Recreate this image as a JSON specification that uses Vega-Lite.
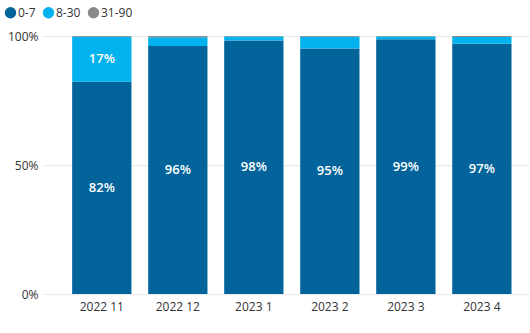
{
  "$schema": "https://vega.github.io/schema/vega-lite/v6.json",
  "autosize": {"type": "none"},
  "padding": {"left": 42, "top": 36, "right": 0, "bottom": 39},
  "width": 488,
  "height": 258,
  "background": "white",
  "config": {"view": {"stroke": null}, "font": "Segoe UI, Open Sans, sans-serif"},
  "data": {
    "values": [
      {"month": "2022 11", "bucket": "0-7", "value": 82.3},
      {"month": "2022 11", "bucket": "8-30", "value": 17.4},
      {"month": "2022 11", "bucket": "31-90", "value": 0.3},
      {"month": "2022 12", "bucket": "0-7", "value": 96.1},
      {"month": "2022 12", "bucket": "8-30", "value": 3.4},
      {"month": "2022 12", "bucket": "31-90", "value": 0.5},
      {"month": "2023 1", "bucket": "0-7", "value": 98.3},
      {"month": "2023 1", "bucket": "8-30", "value": 1.5},
      {"month": "2023 1", "bucket": "31-90", "value": 0.2},
      {"month": "2023 2", "bucket": "0-7", "value": 95.2},
      {"month": "2023 2", "bucket": "8-30", "value": 4.5},
      {"month": "2023 2", "bucket": "31-90", "value": 0.3},
      {"month": "2023 3", "bucket": "0-7", "value": 98.7},
      {"month": "2023 3", "bucket": "8-30", "value": 1.1},
      {"month": "2023 3", "bucket": "31-90", "value": 0.2},
      {"month": "2023 4", "bucket": "0-7", "value": 97.0},
      {"month": "2023 4", "bucket": "8-30", "value": 2.6},
      {"month": "2023 4", "bucket": "31-90", "value": 0.4}
    ]
  },
  "transform": [
    {"stack": "value", "groupby": ["month"], "offset": "normalize", "as": ["y0", "y1"]},
    {"calculate": "(datum.y0 + datum.y1) / 2", "as": "ymid"},
    {"calculate": "datum.y1 - datum.y0", "as": "share"}
  ],
  "encoding": {
    "x": {
      "field": "month",
      "type": "nominal",
      "sort": null,
      "title": null,
      "scale": {"paddingInner": 0.22, "paddingOuter": 0.32, "align": 0.62},
      "axis": {"labelAngle": 0, "labelFontSize": 12, "labelColor": "#333333", "domain": false, "ticks": false, "labelPadding": 7, "grid": false}
    }
  },
  "layer": [
    {
      "mark": {"type": "bar"},
      "encoding": {
        "y": {
          "field": "y0",
          "type": "quantitative",
          "title": null,
          "scale": {"domain": [0, 1], "nice": false},
          "axis": {"values": [0, 0.5, 1], "format": ".0%", "labelFontSize": 12, "labelColor": "#333333", "domain": false, "ticks": false, "labelPadding": 4, "gridColor": "#EAEAEA", "gridWidth": 1}
        },
        "y2": {"field": "y1"},
        "color": {
          "field": "bucket",
          "type": "nominal",
          "scale": {"domain": ["0-7", "8-30", "31-90"], "range": ["#02649B", "#01B2EE", "#898989"]},
          "legend": {
            "title": null,
            "orient": "none",
            "direction": "horizontal",
            "legendX": -38,
            "legendY": -30,
            "symbolType": "circle",
            "symbolSize": 130,
            "symbolOpacity": 1,
            "labelFontSize": 12,
            "labelColor": "#333333",
            "labelOffset": 1,
            "columnPadding": 6
          }
        }
      }
    },
    {
      "transform": [{"filter": "datum.value >= 10"}],
      "mark": {"type": "text", "color": "white", "fontSize": 13, "fontWeight": 600, "baseline": "middle"},
      "encoding": {
        "y": {"field": "ymid", "type": "quantitative"},
        "text": {"field": "share", "type": "quantitative", "format": ".0%"},
        "detail": {"field": "bucket"}
      }
    }
  ]
}
